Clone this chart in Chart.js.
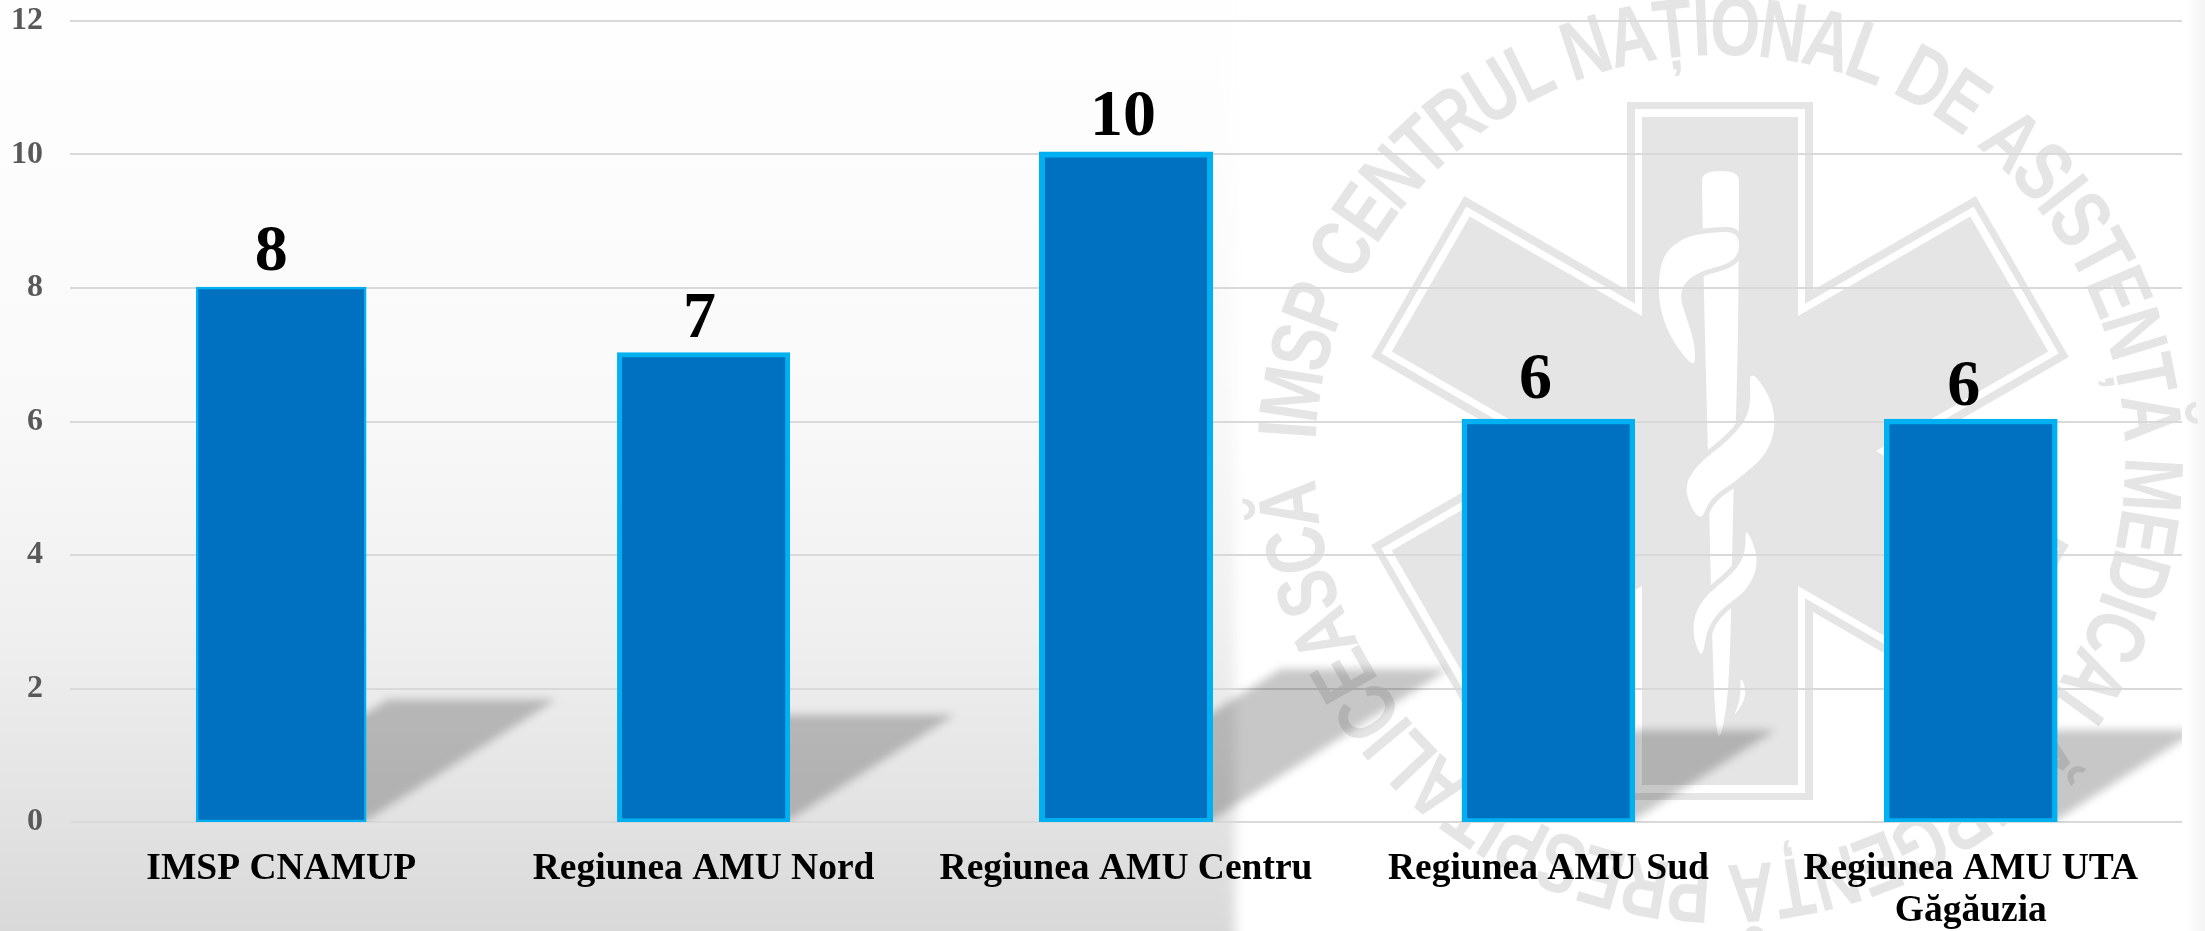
<!DOCTYPE html>
<html lang="ro">
<head>
<meta charset="utf-8">
<title>Regiunea AMU</title>
<script src="https://cdn.jsdelivr.net/npm/chart.js@4/dist/chart.umd.min.js"></script>
<style>
  html, body { margin: 0; padding: 0; background: #fff; }
  #wrap { width: 2205px; height: 931px; }
</style>
</head>
<body>
<div id="wrap"><canvas id="chart" width="2205" height="931"></canvas></div>
<script>
// Date
const categories = ["IMSP CNAMUP", "Regiunea AMU Nord", "Regiunea AMU Centru", "Regiunea AMU Sud", ["Regiunea AMU UTA", "Găgăuzia"]];
const values = [8, 7, 10, 6, 6];
const valueLabels = ["8", "7", "10", "6", "6"];
const yTicks = [0, 2, 4, 6, 8, 10, 12];

// Stil
const barFill = "#0070C0";
const barStroke = "#00B0F0";
const barStrokeWidth = [2.5, 5, 6, 5.5, 5.5];
const barInflate = barStrokeWidth.map(w => w / 2);
const labelNudgeX = [-10, -4, -3, -13, -7];
const labelGapY = [18, 18, 20, 24, 17];
const serif = '"Liberation Serif", "Times New Roman", serif';
const waterGrey = "#e5e5e5";
const ringText = "IMSP CENTRUL NAȚIONAL DE ASISTENȚĂ MEDICALĂ URGENȚĂ PRESPITALICEASCĂ";

function smoothShape(ctx, pts) {
  ctx.beginPath();
  const n = pts.length;
  ctx.moveTo((pts[n - 1][0] + pts[0][0]) / 2, (pts[n - 1][1] + pts[0][1]) / 2);
  for (let i = 0; i < n; i++) {
    const p = pts[i], q = pts[(i + 1) % n];
    ctx.quadraticCurveTo(p[0], p[1], (p[0] + q[0]) / 2, (p[1] + q[1]) / 2);
  }
  ctx.closePath();
}

function starPath(ctx, cx, cy, w, len) {
  ctx.beginPath();
  for (let k = 0; k < 6; k++) {
    const a = k * Math.PI / 3;
    const c = Math.cos(a), s = Math.sin(a);
    const corners = [[-w, -len], [w, -len], [w, -w * Math.sqrt(3)]];
    for (const [x, y] of corners) {
      ctx.lineTo(cx + x * c - y * s, cy + x * s + y * c);
    }
  }
  ctx.closePath();
}

function drawRing(ctx, cx, cy) {
  const radius = 405;
  const start = Math.PI + 0.05;
  const span = 2 * Math.PI - 0.1;
  ctx.font = 'bold 84px "Liberation Sans", Arial, sans-serif';
  ctx.fillStyle = waterGrey;
  ctx.textAlign = "center";
  ctx.textBaseline = "alphabetic";
  const chars = Array.from(ringText);
  const widths = chars.map(c => ctx.measureText(c).width);
  const total = widths.reduce((a, b) => a + b, 0);
  const squeeze = span * (radius + 30) / total;
  let run = 0;
  chars.forEach((c, i) => {
    const a = start + (run + widths[i] / 2) / total * span;
    run += widths[i];
    ctx.save();
    ctx.translate(cx + radius * Math.cos(a), cy + radius * Math.sin(a));
    ctx.rotate(a + Math.PI / 2);
    ctx.scale(squeeze, 1);
    ctx.fillText(c, 0, 0);
    ctx.restore();
  });
}

function drawSnake(ctx) {
  const shapes = [
    // cap + corp sus
    [[1712, 232], [1740, 232], [1738, 262], [1695, 272], [1678, 292], [1688, 322], [1695, 345], [1695, 372], [1660, 322], [1658, 262], [1680, 238]],
    [[1748, 365], [1776, 405], [1772, 450], [1735, 482], [1710, 498], [1700, 524], [1683, 490], [1696, 465], [1732, 438], [1752, 410]],
    [[1745, 525], [1760, 560], [1748, 590], [1722, 608], [1707, 628], [1702, 662], [1691, 630], [1700, 600], [1735, 572], [1746, 552]],
    [[1740, 674], [1748, 695], [1732, 720], [1741, 698]]
  ];
  // toiagul
  ctx.fillStyle = "#fff";
  smoothShape(ctx, [[1702, 190], [1702, 171], [1739, 171], [1739, 190], [1738, 360], [1733, 500], [1730, 680], [1722, 736], [1716, 736], [1712, 640], [1708, 450], [1704, 300]]);
  ctx.fill();
  ctx.lineJoin = "round";
  for (const s of shapes) {
    smoothShape(ctx, s);
    ctx.strokeStyle = waterGrey;
    ctx.lineWidth = 10;
    ctx.stroke();
    ctx.fillStyle = "#fff";
    ctx.fill();
  }
}

// fundal + sigla
const backdropPlugin = {
  id: "backdrop",
  beforeDraw(chart) {
    const { ctx, width, height } = chart;
    ctx.save();
    ctx.fillStyle = "#fff";
    ctx.fillRect(0, 0, width, height);

    const grad = ctx.createLinearGradient(0, 0, 0, height);
    grad.addColorStop(0, "#fefefe");
    grad.addColorStop(130 / 931, "#fdfdfd");
    grad.addColorStop(400 / 931, "#f9f9f9");
    grad.addColorStop(640 / 931, "#efefef");
    grad.addColorStop(822 / 931, "#e2e2e2");
    grad.addColorStop(1, "#d9d9d9");
    ctx.save();
    ctx.beginPath();
    ctx.rect(0, 0, width, height);
    ctx.clip();
    ctx.filter = "blur(6px)";
    ctx.fillStyle = grad;
    ctx.fillRect(-30, -30, 1265, height + 60);
    ctx.restore();

    const edge = ctx.createLinearGradient(2185, 0, 2205, 0);
    edge.addColorStop(0, "rgba(244,244,244,0)");
    edge.addColorStop(1, "rgba(244,244,244,1)");
    ctx.fillStyle = edge;
    ctx.fillRect(2185, 0, 20, height);

    const cx = 1720, cy = 451;
    starPath(ctx, cx, cy, 93, 349);
    ctx.fillStyle = waterGrey;
    ctx.fill();
    starPath(ctx, cx, cy, 85, 342);
    ctx.fillStyle = "#fff";
    ctx.fill();
    starPath(ctx, cx, cy, 78, 334);
    ctx.fillStyle = waterGrey;
    ctx.fill();
    drawSnake(ctx);
    drawRing(ctx, cx, 460);
    ctx.restore();
  }
};

// umbra oblica a barelor
const shadowPlugin = {
  id: "barShadow",
  beforeDatasetsDraw(chart) {
    const { ctx, chartArea } = chart;
    const bars = chart.getDatasetMeta(0).data;
    ctx.save();
    ctx.beginPath();
    ctx.rect(chartArea.left, chartArea.top, chartArea.right - chartArea.left, chartArea.bottom - chartArea.top);
    ctx.clip();
    ctx.filter = "blur(4px)";
    ctx.fillStyle = "rgba(0,0,0,0.22)";
    for (const bar of bars) {
      const half = bar.width / 2;
      const h = (bar.base - bar.y) * 0.228;
      const dx = h * 1.57;
      ctx.beginPath();
      ctx.moveTo(bar.x - half, bar.base);
      ctx.lineTo(bar.x + half, bar.base);
      ctx.lineTo(bar.x + half + dx, bar.base - h);
      ctx.lineTo(bar.x - half + dx, bar.base - h);
      ctx.closePath();
      ctx.fill();
    }
    ctx.restore();
  }
};

// etichete de valori
const valueLabelPlugin = {
  id: "valueLabels",
  afterDatasetsDraw(chart) {
    const { ctx } = chart;
    const bars = chart.getDatasetMeta(0).data;
    ctx.save();
    ctx.font = "bold 66px " + serif;
    ctx.fillStyle = "#000";
    ctx.textAlign = "center";
    ctx.textBaseline = "alphabetic";
    bars.forEach((bar, i) => {
      ctx.fillText(valueLabels[i], bar.x + labelNudgeX[i], bar.y - labelGapY[i]);
    });
    ctx.restore();
  }
};

new Chart(document.getElementById("chart"), {
  type: "bar",
  data: {
    labels: categories,
    datasets: [{
      data: values,
      backgroundColor: barFill,
      borderColor: barStroke,
      borderWidth: barStrokeWidth,
      borderSkipped: false,
      inflateAmount: barInflate,
      barPercentage: 0.398,
      categoryPercentage: 1
    }]
  },
  plugins: [backdropPlugin, shadowPlugin, valueLabelPlugin],
  options: {
    responsive: false,
    animation: false,
    layout: { autoPadding: false, padding: { top: 21, right: 23, left: 0, bottom: 0 } },
    plugins: { legend: { display: false }, tooltip: { enabled: false } },
    scales: {
      x: {
        grid: { display: false },
        border: { display: false },
        afterFit(axis) { axis.height = 109; },
        ticks: {
          color: "#000",
          maxRotation: 0,
          autoSkip: false,
          padding: 19,
          font: { family: serif, size: 37.5, weight: "bold", lineHeight: 1.1 }
        }
      },
      y: {
        min: 0,
        max: 12,
        afterFit(axis) {
          axis.width = 70;
          // padding-ul etichetelor ar impinge zona graficului in jos
          axis.paddingTop = 0;
          axis.paddingBottom = 0;
        },
        afterBuildTicks(axis) { axis.ticks = yTicks.map(v => ({ value: v })); },
        grid: { color: "#d9d9d9", lineWidth: 2, drawTicks: false },
        border: { display: false },
        ticks: {
          color: "#595959",
          padding: 27,
          font: { family: serif, size: 32, weight: "bold" }
        }
      }
    }
  }
});
</script>
</body>
</html>
